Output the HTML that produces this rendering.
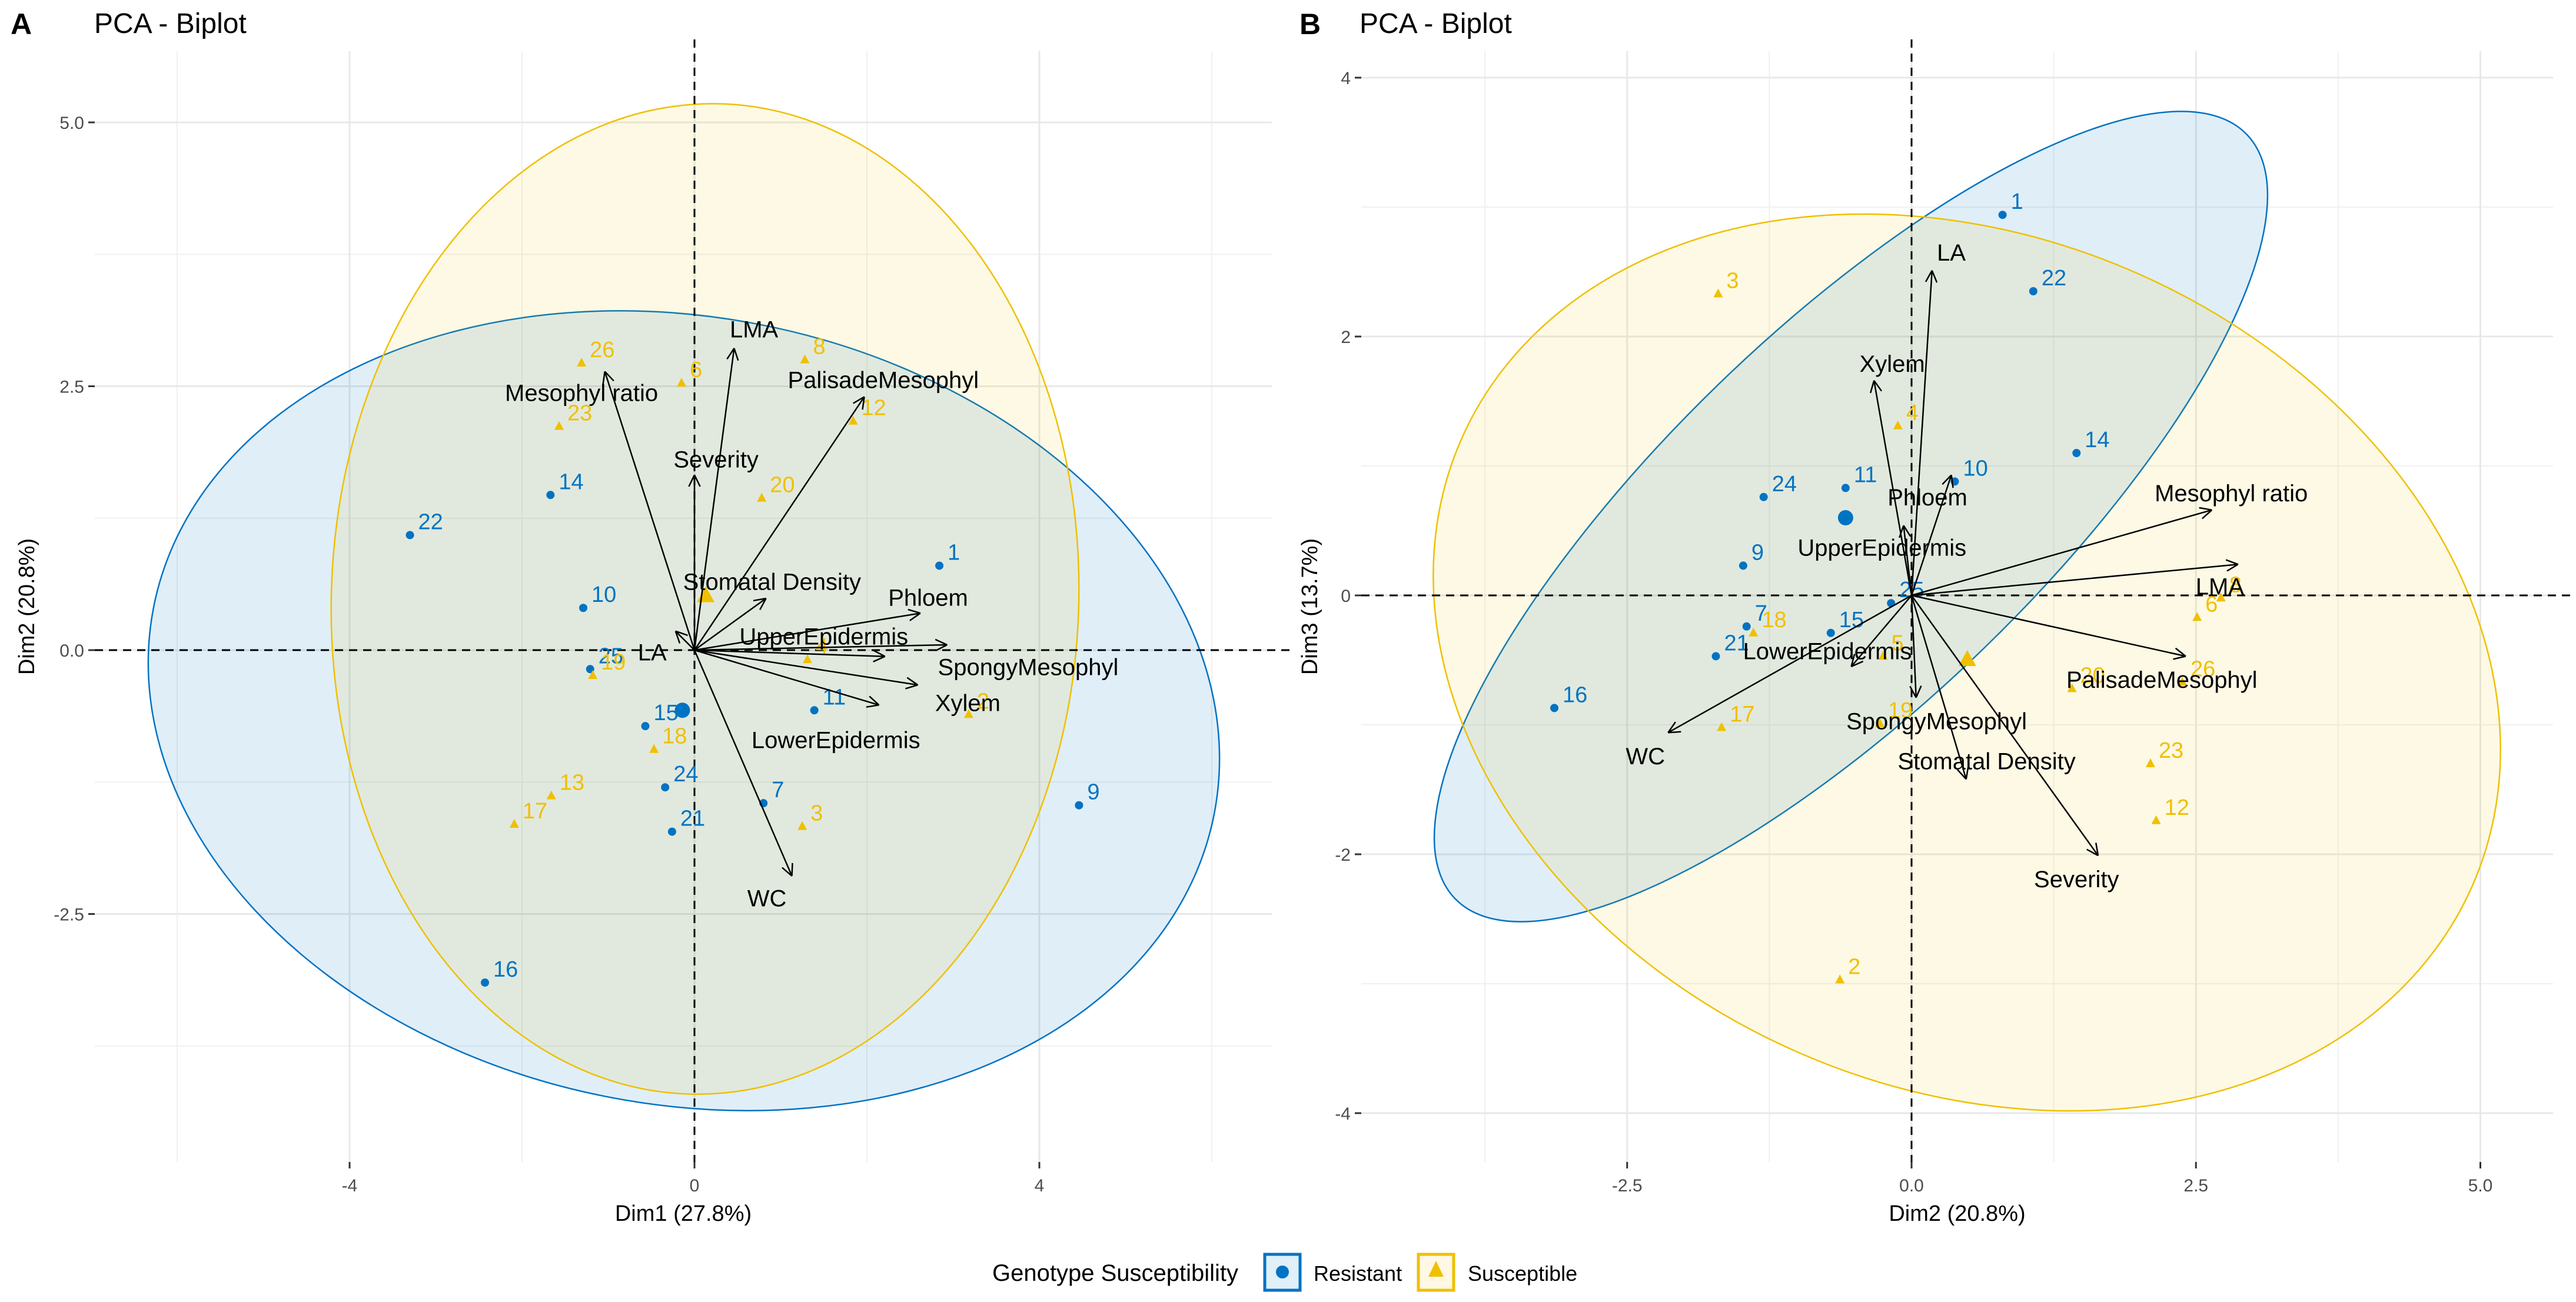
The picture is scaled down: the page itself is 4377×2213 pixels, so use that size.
<!DOCTYPE html>
<html><head><meta charset="utf-8"><style>
html,body{margin:0;padding:0;background:#fff;}
svg{display:block;font-family:"Liberation Sans",Arial,sans-serif;}
</style></head>
<body>
<svg id="chart" width="4377" height="2213" viewBox="0 0 4377 2213" xmlns="http://www.w3.org/2000/svg">
<rect x="0" y="0" width="4377" height="2213" fill="#fff"/>
<text x="18" y="58" font-size="50" font-weight="bold" fill="#000">A</text>
<text x="160" y="56" font-size="48" fill="#000">PCA - Biplot</text>
<text x="2208" y="58" font-size="50" font-weight="bold" fill="#000">B</text>
<text x="2310" y="56" font-size="48" fill="#000">PCA - Biplot</text>
<g id="panelA"></g>
<g id="panelB"></g>
<g>
<text x="1686" y="2177" font-size="40" fill="#000">Genotype Susceptibility</text>
<g>
<rect x="2149" y="2132" width="60" height="61" fill="#e0eff8" stroke="#0073C2" stroke-width="5"/>
<circle cx="2179" cy="2162" r="11" fill="#0073C2"/>
<text x="2232" y="2177" font-size="36" fill="#000">Resistant</text>
</g>
<g>
<rect x="2410" y="2132" width="60" height="61" fill="#fff8e5" stroke="#EFC000" stroke-width="5"/>
<polygon points="2440,2143 2427,2170 2453,2170" fill="#EFC000"/>
<text x="2494" y="2177" font-size="36" fill="#000">Susceptible</text>
</g>
</g>
</svg>
<script>
// ===== Panel A data (Dim1 vs Dim2) =====
const aResIds = ["1","22","14","10","25","15","24","21","7","11","9","16"];
const aResX = [2.84,-3.30,-1.67,-1.29,-1.21,-0.57,-0.34,-0.26,0.80,1.39,4.46,-2.43];
const aResY = [0.80,1.09,1.47,0.40,-0.18,-0.72,-1.30,-1.72,-1.45,-0.57,-1.47,-3.15];
const aSusIds = ["26","6","8","23","12","20","4","2","19","18","13","17","3"];
const aSusX = [-1.31,-0.15,1.28,-1.57,1.84,0.78,1.31,3.18,-1.18,-0.47,-1.66,-2.09,1.25];
const aSusY = [2.72,2.53,2.75,2.12,2.17,1.44,-0.09,-0.61,-0.24,-0.94,-1.38,-1.65,-1.67];
const aCentroidRes = [-0.14,-0.57];
const aCentroidSus = [0.13,0.51];
const aVarNames = ["LMA","Mesophyl ratio","Severity","PalisadeMesophyl","Stomatal Density","Phloem","UpperEpidermis","SpongyMesophyl","Xylem","LowerEpidermis","WC","LA"];
const aVarX = [0.46,-1.04,0.00,1.97,0.83,2.62,2.21,2.93,2.59,2.14,1.13,-0.22];
const aVarY = [2.86,2.64,1.66,2.40,0.49,0.35,-0.06,0.05,-0.33,-0.52,-2.14,0.18];
const aVarLabelX = [0.69,-1.31,0.25,2.19,0.90,2.71,1.50,3.87,3.17,1.64,0.84,-0.49];
const aVarLabelY = [3.04,2.44,1.81,2.56,0.65,0.50,0.13,-0.16,-0.50,-0.85,-2.35,-0.02];
const aXTicks = [-4,0,4];
const aYTicks = [-2.5,0,2.5,5];
const aYTickLabels = ["-2.5","0.0","2.5","5.0"];
// ===== Panel B data (Dim2 vs Dim3) =====
const bResIds = ["1","22","14","11","24","10","9","25","15","7","21","16"];
const bResX = [0.80,1.07,1.45,-0.58,-1.30,0.38,-1.48,-0.18,-0.71,-1.45,-1.72,-3.14];
const bResY = [2.94,2.35,1.10,0.83,0.76,0.88,0.23,-0.06,-0.29,-0.24,-0.47,-0.87];
const bSusIds = ["3","4","8","6","20","26","23","12","5","18","17","19","2"];
const bSusX = [-1.70,-0.12,2.72,2.51,1.41,2.38,2.10,2.15,-0.25,-1.39,-1.67,-0.28,-0.63];
const bSusY = [2.33,1.31,-0.02,-0.17,-0.72,-0.67,-1.30,-1.74,-0.47,-0.29,-1.02,-0.99,-2.97];
const bCentroidRes = [-0.58,0.60];
const bCentroidSus = [0.49,-0.50];
const bVarNames = ["LA","Xylem","Phloem","UpperEpidermis","Mesophyl ratio","LMA","PalisadeMesophyl","LowerEpidermis","SpongyMesophyl","Stomatal Density","Severity","WC"];
const bVarX = [0.18,-0.33,0.35,-0.07,2.64,2.87,2.41,-0.53,0.04,0.48,1.64,-2.14];
const bVarY = [2.51,1.66,0.93,0.54,0.66,0.24,-0.47,-0.55,-0.79,-1.42,-2.01,-1.06];
const bVarLabelX = [0.35,-0.17,0.14,-0.26,2.81,2.71,2.20,-0.74,0.22,0.66,1.45,-2.34];
const bVarLabelY = [2.65,1.79,0.76,0.37,0.79,0.07,-0.65,-0.43,-0.97,-1.28,-2.19,-1.24];
const bXTicks = [-2.5,0,2.5,5];
const bXTickLabels = ["-2.5","0.0","2.5","5.0"];
const bYTicks = [-4,-2,0,2,4];

const NS="http://www.w3.org/2000/svg";
function mk(parent,tag,attrs){const e=document.createElementNS(NS,tag);for(const k in attrs)e.setAttribute(k,attrs[k]);parent.appendChild(e);return e;}

function drawPanel(g,cfg){
  const sx=v=>cfg.x0+v*cfg.ux, sy=v=>cfg.y0-v*cfg.uy;
  cfg.minorX.forEach(v=>{const l=mk(g,'line',{x1:sx(v),x2:sx(v),y1:cfg.top,y2:cfg.bottom,stroke:'#f0f0f0','stroke-width':2});
    
    });
  cfg.minorY.forEach(v=>{const l=mk(g,'line',{x1:cfg.left,x2:cfg.right,y1:sy(v),y2:sy(v),stroke:'#f0f0f0','stroke-width':2});
    
    });
  cfg.xTicks.forEach((v,i)=>{const l=mk(g,'line',{x1:sx(v),x2:sx(v),y1:cfg.top,y2:cfg.bottom,stroke:'#e8e8e8','stroke-width':3});
    
    
    mk(g,'line',{x1:sx(v),x2:sx(v),y1:cfg.bottom,y2:cfg.bottom+11,stroke:'#333','stroke-width':3});
    const t=mk(g,'text',{x:sx(v),y:cfg.bottom+50,'font-size':30,fill:'#4d4d4d','text-anchor':'middle'});
    t.textContent=cfg.xLabels[i];
    
    });
  cfg.yTicks.forEach((v,i)=>{const l=mk(g,'line',{x1:cfg.left,x2:cfg.right,y1:sy(v),y2:sy(v),stroke:'#e8e8e8','stroke-width':3});
    
    
    mk(g,'line',{x1:cfg.left-11,x2:cfg.left,y1:sy(v),y2:sy(v),stroke:'#333','stroke-width':3});
    const t=mk(g,'text',{x:cfg.left-18,y:sy(v)+11,'font-size':30,fill:'#4d4d4d','text-anchor':'end'});
    t.textContent=cfg.yLabels[i];
    
    });
  const eb=mk(g,'ellipse',{cx:cfg.ellRes[0],cy:cfg.ellRes[1],rx:cfg.ellRes[2],ry:cfg.ellRes[3],transform:`rotate(${cfg.ellRes[4]} ${cfg.ellRes[0]} ${cfg.ellRes[1]})`,fill:'rgba(0,115,194,0.12)',stroke:'#0073C2','stroke-width':2.5});
  
  
  const ey=mk(g,'ellipse',{cx:cfg.ellSus[0],cy:cfg.ellSus[1],rx:cfg.ellSus[2],ry:cfg.ellSus[3],transform:`rotate(${cfg.ellSus[4]} ${cfg.ellSus[0]} ${cfg.ellSus[1]})`,fill:'rgba(239,192,0,0.1)',stroke:'#EFC000','stroke-width':2.5});
  
  
  const zx=mk(g,'line',{x1:sx(0),x2:sx(0),y1:cfg.top-20,y2:cfg.bottom,stroke:'#000','stroke-width':3,'stroke-dasharray':'14 10'});
  
  
  const zy=mk(g,'line',{x1:cfg.left,x2:cfg.right+30,y1:sy(0),y2:sy(0),stroke:'#000','stroke-width':3,'stroke-dasharray':'14 10'});
  
  
  cfg.resX.forEach((v,i)=>{const c=mk(g,'circle',{cx:sx(v),cy:sy(cfg.resY[i]),r:7,fill:'#0073C2'});
    
    
    const t=mk(g,'text',{x:sx(v)+14,y:sy(cfg.resY[i])-10,'font-size':38,fill:'#0073C2'});
    t.textContent=cfg.resIds[i];
    
    });
  cfg.susX.forEach((v,i)=>{const x=sx(v),y=sy(cfg.susY[i]);
    const p=mk(g,'polygon',{points:`${x},${y-9} ${x-8},${y+6} ${x+8},${y+6}`,fill:'#EFC000'});
    
    
    const t=mk(g,'text',{x:x+14,y:y-10,'font-size':38,fill:'#EFC000'});
    t.textContent=cfg.susIds[i];
    
    });
  const cr=mk(g,'circle',{cx:sx(cfg.cRes[0]),cy:sy(cfg.cRes[1]),r:13,fill:'#0073C2'});
  
  
  const cx=sx(cfg.cSus[0]),cy=sy(cfg.cSus[1]);
  const cs=mk(g,'polygon',{points:`${cx},${cy-17} ${cx-15},${cy+10} ${cx+15},${cy+10}`,fill:'#EFC000'});
  
  
  const ox=sx(0),oy=sy(0);
  cfg.varX.forEach((v,i)=>{const tx=sx(v),ty=sy(cfg.varY[i]);
    const ag=mk(g,'g',{});
    
    
    mk(ag,'line',{x1:ox,y1:oy,x2:tx,y2:ty,stroke:'#000','stroke-width':2.5});
    const ang=Math.atan2(ty-oy,tx-ox),h=22;
    [0.45,-0.45].forEach(d=>mk(ag,'line',{x1:tx,y1:ty,x2:tx-h*Math.cos(ang+d),y2:ty-h*Math.sin(ang+d),stroke:'#000','stroke-width':2.5}));
    const t=mk(ag,'text',{x:sx(cfg.labX[i]),y:sy(cfg.labY[i])+14,'font-size':40,fill:'#000','text-anchor':'middle'});
    t.textContent=cfg.varNames[i];});
  const xt=mk(g,'text',{x:(cfg.left+cfg.right)/2,y:cfg.bottom+100,'font-size':38,fill:'#000','text-anchor':'middle'});
  xt.textContent=cfg.xTitle;
  
  
  const ymid=(cfg.top+cfg.bottom)/2;
  const yt=mk(g,'text',{x:cfg.yTitleX,y:ymid,'font-size':38,fill:'#000','text-anchor':'middle',transform:`rotate(-90 ${cfg.yTitleX} ${ymid})`});
  yt.textContent=cfg.yTitle;
  
  
}

drawPanel(document.getElementById('panelA'),{
  x0:1180,ux:146.5,y0:1105,uy:179.4,left:161,right:2161,top:87,bottom:1975,
  xTicks:aXTicks,xLabels:aXTicks.map(String),yTicks:aYTicks,yLabels:aYTickLabels,
  minorX:[-6,-2,2,6],minorY:[-3.75,-1.25,1.25,3.75],
  ellRes:[1162,1208,918,669,11],ellSus:[1198,1018,635,842,2],
  resIds:aResIds,resX:aResX,resY:aResY,susIds:aSusIds,susX:aSusX,susY:aSusY,
  cRes:aCentroidRes,cSus:aCentroidSus,varNames:aVarNames,varX:aVarX,varY:aVarY,
  labX:aVarLabelX,labY:aVarLabelY,
  xTitle:"Dim1 (27.8%)",yTitle:"Dim2 (20.8%)",yTitleX:58});
drawPanel(document.getElementById('panelB'),{
  x0:3248,ux:193.3,y0:1012,uy:220,left:2313,right:4338,top:87,bottom:1975,
  xTicks:bXTicks,xLabels:bXTickLabels,yTicks:bYTicks,yLabels:bYTicks.map(String),
  minorX:[-3.75,-1.25,1.25,3.75],minorY:[-3,-1,1,3],
  ellRes:[3145,878,935,318,-44],ellSus:[3342,1126,939,722,24],
  resIds:bResIds,resX:bResX,resY:bResY,susIds:bSusIds,susX:bSusX,susY:bSusY,
  cRes:bCentroidRes,cSus:bCentroidSus,varNames:bVarNames,varX:bVarX,varY:bVarY,
  labX:bVarLabelX,labY:bVarLabelY,
  xTitle:"Dim2 (20.8%)",yTitle:"Dim3 (13.7%)",yTitleX:2238});
</script>
</body></html>
